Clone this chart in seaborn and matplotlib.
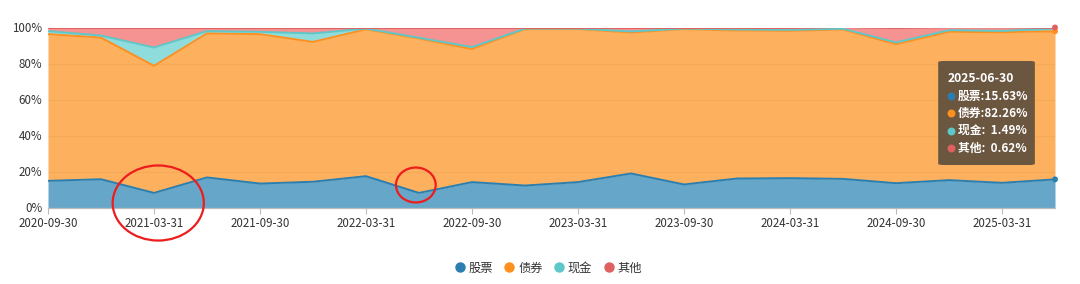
import numpy as np
import pandas as pd
import matplotlib
matplotlib.use("Agg")
import matplotlib.pyplot as plt
from matplotlib.patches import Ellipse, FancyBboxPatch
from matplotlib.lines import Line2D
import seaborn as sns

dates = ["2020-09-30", "2020-12-31", "2021-03-31", "2021-06-30", "2021-09-30",
         "2021-12-31", "2022-03-31", "2022-06-30", "2022-09-30", "2022-12-31",
         "2023-03-31", "2023-06-30", "2023-09-30", "2023-12-31", "2024-03-31",
         "2024-06-30", "2024-09-30", "2024-12-31", "2025-03-31", "2025-06-30"]
stock = [14.8, 15.7, 8.1, 16.7, 13.3, 14.3, 17.4, 8.1, 14.1, 12.2,
         14.1, 18.9, 12.8, 16.1, 16.3, 15.9, 13.5, 15.2, 13.7, 15.63]
bond = [81.5, 78.7, 70.6, 80.0, 83.0, 77.7, 81.6, 85.8, 73.9, 86.9,
        85.0, 78.3, 86.3, 82.2, 81.8, 83.0, 77.2, 82.4, 83.7, 82.26]
cash = [1.7, 1.1, 10.2, 1.3, 1.3, 4.7, 0.4, 0.4, 1.1, 0.3,
        0.3, 0.6, 0.3, 0.6, 0.6, 0.4, 1.0, 0.9, 0.7, 1.49]
other = [2.0, 4.5, 11.1, 2.0, 2.4, 3.3, 0.6, 5.7, 10.9, 0.6,
         0.6, 2.2, 0.6, 1.1, 1.3, 0.7, 8.3, 1.5, 1.9, 0.62]
series_names = ["股票", "债券", "现金", "其他"]
tick_labels = dates[::2]

line_colors = ["#2b7fb0", "#ff9020", "#5ec8c8", "#e06060"]
fill_colors = ["#66a7c9", "#fdb15e", "#8fdcdc", "#f59292"]

sns.set_theme(style="white")
plt.rcParams["font.family"] = ["Noto Sans CJK SC", "DejaVu Sans"]

df = pd.DataFrame({"idx": np.arange(len(dates)), "date": dates,
                   "股票": stock, "债券": bond, "现金": cash, "其他": other})
cum = df[series_names].cumsum(axis=1)
cum["idx"] = df["idx"]

fig = plt.figure(figsize=(10.8, 2.84), dpi=100)
ax = fig.add_axes([48/1080, 1-207.5/284, 1007/1080, 180/284])

lower = np.zeros(len(dates))
for i, name in enumerate(series_names):
    upper = cum[name].values
    ax.fill_between(df["idx"], lower, upper, color=fill_colors[i], linewidth=0, zorder=1)
    lower = upper

for y in [20, 40, 60, 80, 100]:
    ax.axhline(y, color="#000000", alpha=0.04, lw=0.8, zorder=2)

for i, name in enumerate(series_names):
    sns.lineplot(data=cum, x="idx", y=name, ax=ax, color=line_colors[i], lw=1.4, zorder=3)

last = cum.iloc[[-1]]
for i, name in enumerate(series_names):
    if name == "现金":
        continue
    sns.scatterplot(data=last, x="idx", y=name, ax=ax, color=line_colors[i], s=18,
                    edgecolor="none", zorder=5, clip_on=False)

ax.set_xlim(0, len(dates) - 1)
ax.set_ylim(0, 100)
ax.set_xlabel("")
ax.set_ylabel("")
ax.set_xticks(df["idx"][::2])
ax.set_xticklabels(tick_labels, fontsize=8.3, color="#333333")
ax.set_yticks([0, 20, 40, 60, 80, 100])
ax.set_yticklabels(["0%", "20%", "40%", "60%", "80%", "100%"], fontsize=8.3, color="#333333")
ax.tick_params(axis="x", length=4, color="#bbbbbb", width=0.8, pad=3, bottom=True)
ax.tick_params(axis="y", length=0, pad=4)
for s in ["top", "right", "left"]:
    ax.spines[s].set_visible(False)
ax.spines["bottom"].set_color("#bbbbbb")
ax.spines["bottom"].set_linewidth(0.9)
ax.spines["bottom"].set_zorder(4)

# red annotation circles
ax.add_patch(Ellipse((2.08, 2.5), 1.72, 41.7, fill=False, edgecolor="#ee1c1c", lw=1.6,
                     clip_on=False, zorder=6))
ax.add_patch(Ellipse((6.94, 12.5), 0.75, 19.4, fill=False, edgecolor="#ee1c1c", lw=1.6,
                     clip_on=False, zorder=6))

# tooltip
tr = ax.transAxes
ax.add_patch(FancyBboxPatch((0.884, 0.236), 0.096, 0.578, boxstyle="round,pad=0,rounding_size=0.006",
                            transform=tr, facecolor="#6b5640", edgecolor="none", zorder=7,
                            clip_on=False))
ax.text(0.893, (207.5-78)/180, dates[-1], transform=tr, color="white", fontsize=8.8,
        fontweight="bold", va="center", ha="left", zorder=8)
labels = ["股票:" + f"{stock[-1]:.2f}%", "债券:" + f"{bond[-1]:.2f}%",
          "现金:  " + f"{cash[-1]:.2f}%", "其他:  " + f"{other[-1]:.2f}%"]
for k, (lab, col) in enumerate(zip(labels, line_colors)):
    yy = (207.5 - (96 + k*17.3)) / 180
    ax.scatter([0.8965], [yy], transform=tr, s=22, color=col, zorder=8, clip_on=False)
    ax.text(0.9035, yy, lab, transform=tr, color="white", fontsize=8.5, fontweight="bold",
            va="center", ha="left", zorder=8)

# legend
handles = [Line2D([], [], marker="o", ls="", color=c, markersize=6.5) for c in line_colors]
fig.legend(handles, series_names, loc="center", bbox_to_anchor=(0.508, 1-268/284), ncol=4,
           frameon=False, fontsize=8.8, handlelength=0.7, handletextpad=0.35,
           columnspacing=1.0, labelcolor="#333333")

fig.savefig("out.png", dpi=100)
